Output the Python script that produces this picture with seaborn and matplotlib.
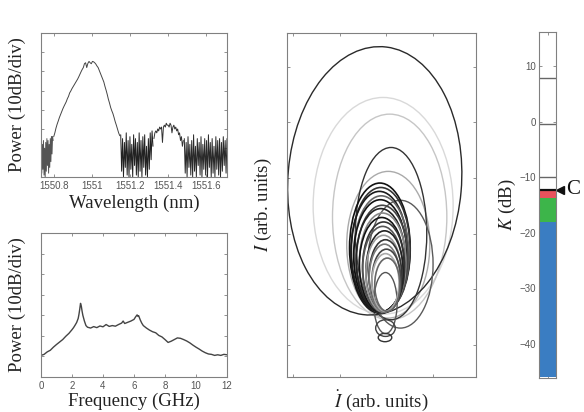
import numpy as np
import matplotlib
matplotlib.use("Agg")
import matplotlib.pyplot as plt
import seaborn as sns
from matplotlib.patches import Ellipse

# ---- optical spectrum (power in divisions of 10 dB) ----
noise_left_range = (1550.731, 1550.794)
noise_left_pw = [1.6, 0.2, 1.7, 0.4, 1.9, 0.1, 1.5, 0.0, 1.8, 0.3, 2.0,
                 0.6, 1.9, 0.2, 1.7, 0.5, 2.0, 0.8, 2.1, 1.2, 2.1, 1.9]
peak_range = (1550.797, 1551.145)
peak_pw = [2.10, 2.30, 2.55, 2.75, 2.92, 3.10, 3.25, 3.40, 3.55, 3.68,
           3.80, 3.92, 4.08, 4.20, 4.38, 4.48, 4.60, 4.70, 4.80, 4.90,
           5.00, 5.10, 5.22, 5.35, 5.48, 5.60, 5.70, 5.90, 5.95, 5.70,
           5.92, 6.02, 5.95, 5.90, 6.02, 6.00, 5.95, 5.88, 5.78, 5.70,
           5.55, 5.40, 5.25, 5.10, 4.95, 4.72, 4.52, 4.30, 4.05, 3.85,
           3.62, 3.45, 3.30, 3.10, 2.88, 2.70, 2.50, 2.30, 2.15]
noise_mid_range = (1551.150, 1551.320)
noise_mid_pw = [2.2, 0.3, 2.0, 0.0, 1.8, 0.5, 2.3, 0.1, 1.9, 0.0, 2.1, 0.4,
                1.7, 0.0, 2.2, 0.6, 2.0, 0.1, 1.8, 0.0, 2.3, 0.3, 1.9, 0.0,
                2.1, 0.5, 2.2, 0.1, 1.6, 0.0, 2.0, 0.4, 2.3, 0.9, 2.4, 1.6]
bump_range = (1551.325, 1551.480)
bump_pw = [2.0, 2.3, 2.4, 2.3, 2.5, 2.4, 2.6, 2.5, 2.6, 1.8, 2.6, 2.7,
           2.6, 2.8, 2.7, 2.7, 2.6, 2.8, 2.7, 2.3, 2.6, 2.7, 2.5, 2.6,
           2.4, 2.5, 2.2, 2.3, 1.9, 2.1, 1.6, 1.9]
noise_right_range = (1551.485, 1551.710)
noise_right_pw = [2.0, 0.2, 1.8, 0.0, 2.1, 0.5, 1.7, 0.1, 1.9, 0.0, 2.2, 0.3,
                  1.6, 0.0, 2.0, 0.6, 1.8, 0.1, 2.1, 0.0, 1.7, 0.4, 2.0, 0.1,
                  1.9, 0.0, 2.2, 0.5, 1.8, 0.0, 2.0, 0.2, 1.6, 0.0, 2.1, 0.4,
                  1.9, 0.1, 2.0, 0.0, 1.8, 0.3, 2.1, 0.6, 1.9, 0.2, 2.0]
wl_ticks = [1550.8, 1551.0, 1551.2, 1551.4, 1551.6]
wl_ticklabels = ["1550.8", "1551", "1551.2", "1551.4", "1551.6"]

# ---- RF spectrum ----
rf_freq = [0.0, 0.2, 0.4, 0.6, 0.8, 1.0, 1.2, 1.4, 1.6, 1.8, 2.0,
           2.1, 2.2, 2.3, 2.4, 2.45, 2.5, 2.55, 2.6, 2.65, 2.7,
           2.8, 2.9, 3.0,
           3.2, 3.4, 3.6, 3.8, 4.0, 4.2, 4.4, 4.6, 4.8, 5.0, 5.2,
           5.3, 5.4, 5.6, 5.8, 6.0,
           6.1, 6.2, 6.25, 6.3, 6.4, 6.5, 6.6,
           6.8, 7.0, 7.2, 7.4, 7.6, 7.8, 8.0, 8.2, 8.4, 8.6, 8.8, 9.0,
           9.2, 9.4, 9.6, 9.8, 10.0, 10.2, 10.4, 10.6, 10.8, 11.0, 11.2,
           11.4, 11.6, 11.8, 12.0]
rf_power = [1.05, 1.10, 1.22, 1.30, 1.45, 1.58, 1.70, 1.82, 1.98, 2.12, 2.30,
            2.40, 2.52, 2.65, 2.85, 3.05, 3.30, 3.58, 3.45, 3.20, 3.00,
            2.72, 2.50, 2.42,
            2.38, 2.45, 2.40, 2.48, 2.44, 2.55, 2.46, 2.50, 2.47, 2.55, 2.62,
            2.72, 2.60, 2.66, 2.72, 2.80,
            2.92, 3.02, 2.95, 2.98, 2.78, 2.62, 2.50,
            2.38, 2.28, 2.20, 2.15, 2.02, 1.95, 1.82, 1.68, 1.74, 1.82, 1.90, 1.88,
            1.82, 1.75, 1.66, 1.55, 1.45, 1.36, 1.26, 1.18, 1.12, 1.10, 1.05,
            1.08, 1.05, 1.10, 1.08]

# ---- phase portrait loops (cx, cy, width, height in arb. units) ----
outer_cx = [1.93, 2.07, 2.04, 1.75, 2.10, 2.30, 1.98, 1.98, 1.97]
outer_cy = [2.50, 2.30, 1.80, 2.95, 2.00, 1.45, 0.75, 0.30, 0.13]
outer_w = [3.00, 2.45, 1.78, 3.72, 1.53, 1.40, 0.50, 0.42, 0.29]
outer_h = [3.90, 3.70, 2.64, 4.84, 3.10, 2.30, 1.10, 0.30, 0.15]
outer_angle = [0, 0, 0, -6, 0, 0, 0, 0, 0]
outer_color = ["#d9d9d9", "#c6c6c6", "#aaaaaa", "#2a2a2a", "#333333",
               "#5a5a5a", "#555555", "#444444", "#333333"]

cluster_cx = [1.86, 1.88, 1.85, 1.89, 1.87, 1.91, 1.88, 1.92, 1.90,
              1.94, 1.92, 1.96, 1.94, 1.98, 1.96, 2.00, 1.98, 2.02]
cluster_cy = [1.74, 1.70, 1.67, 1.63, 1.60, 1.55, 1.52, 1.48, 1.44,
              1.40, 1.36, 1.32, 1.28, 1.24, 1.20, 1.16, 1.12, 1.08]
cluster_w = [1.30, 1.26, 1.22, 1.18, 1.14, 1.10, 1.06, 1.00, 0.96,
             0.90, 0.86, 0.80, 0.76, 0.70, 0.66, 0.62, 0.58, 0.54]
cluster_h = [2.34, 2.26, 2.18, 2.10, 2.02, 1.92, 1.86, 1.78, 1.70,
             1.62, 1.54, 1.46, 1.38, 1.30, 1.22, 1.12, 1.04, 0.96]
cluster_color = ["#111111", "#333333", "#1a1a1a", "#666666", "#111111",
                 "#444444", "#222222", "#888888", "#111111", "#333333",
                 "#555555", "#222222", "#999999", "#333333", "#777777",
                 "#444444", "#aaaaaa", "#666666"]

# ---- K scale ----
k_bottom = [-46.0, -18.1, -13.8]
k_top = [-18.1, -13.8, -12.3]
k_colors = ["#3a7dc2", "#3db54a", "#e9525c"]
k_lines = [7.8, -0.4, -9.9]
k_c = -12.3
k_ticks = [10, 0, -10, -20, -30, -40]

sns.set_theme(style="white")
plt.rcParams["font.family"] = ["Liberation Sans", "DejaVu Sans"]
plt.rcParams["mathtext.fontset"] = "stix"

W, H = 584, 412
fig = plt.figure(figsize=(W / 100, H / 100), dpi=100)


def box(x0, y0, x1, y1):
    return fig.add_axes([x0 / W, 1 - y1 / H, (x1 - x0) / W, (y1 - y0) / H])


def style(ax):
    for s in ax.spines.values():
        s.set_color("#808080")
        s.set_linewidth(0.8)
    ax.tick_params(direction="in", length=2.5, width=0.6, color="#808080",
                   top=True, right=True, bottom=True, left=True,
                   labelsize=7, labelcolor="#555555", pad=3)


serif = dict(fontfamily="Liberation Serif", fontsize=13.5, color="#222222")

# top-left optical spectrum
ax1 = box(41, 33, 227, 177)
pieces = [(noise_left_range, noise_left_pw, "#555555"),
          (peak_range, peak_pw, "#444444"),
          (noise_mid_range, noise_mid_pw, "#222222"),
          (bump_range, bump_pw, "#333333"),
          (noise_right_range, noise_right_pw, "#2a2a2a")]
for (a, b), pw, c in pieces:
    wl = np.linspace(a, b, len(pw))
    sns.lineplot(x=wl, y=pw, ax=ax1, color=c, lw=0.7)
ax1.set_xlim(1550.73, 1551.71)
ax1.set_ylim(0, 7.5)
ax1.set_xticks(wl_ticks)
ax1.set_xticklabels(wl_ticklabels)
ax1.set_yticks([1.5, 2.5, 3.5, 4.5, 5.5, 6.5])
ax1.set_yticklabels([])
style(ax1)
ax1.set_xlabel("Wavelength (nm)", **serif)
ax1.set_ylabel("Power (10dB/div)", **serif)
ax1.xaxis.set_label_coords(0.5, -0.12)
ax1.yaxis.set_label_coords(-0.08, 0.5)

# bottom-left RF spectrum
ax2 = box(41, 233, 227, 377)
sns.lineplot(x=rf_freq, y=rf_power, ax=ax2, color="#444444", lw=1.0)
ax2.set_xlim(0, 12)
ax2.set_ylim(0, 7)
ax2.set_xticks([0, 2, 4, 6, 8, 10, 12])
ax2.set_yticks([1, 2, 3, 4, 5, 6])
ax2.set_yticklabels([])
style(ax2)
ax2.set_xlabel("Frequency (GHz)", **serif)
ax2.set_ylabel("Power (10dB/div)", **serif)
ax2.xaxis.set_label_coords(0.5, -0.11)
ax2.yaxis.set_label_coords(-0.08, 0.5)

# middle phase portrait
ax3 = box(287, 33, 476, 377)
for cx, cy, w, h, a, c in zip(outer_cx, outer_cy, outer_w, outer_h,
                              outer_angle, outer_color):
    ax3.add_patch(Ellipse((cx, cy), w, h, angle=a, fill=False, ec=c, lw=1.0))
for cx, cy, w, h, c in zip(cluster_cx, cluster_cy, cluster_w, cluster_h,
                           cluster_color):
    ax3.add_patch(Ellipse((cx, cy), w, h, fill=False, ec=c, lw=1.2))
ax3.set_xlim(-0.13, 3.92)
ax3.set_ylim(-0.58, 5.61)
ax3.set_xticks([0, 1, 2, 3])
ax3.set_yticks([0, 1, 2, 3, 4, 5])
ax3.set_xticklabels([])
ax3.set_yticklabels([])
style(ax3)
ax3.set_xlabel(r"$\dot{I}$ (arb. units)", **serif)
ax3.set_ylabel(r"$I$ (arb. units)", **serif)
ax3.xaxis.set_label_coords(0.5, -0.035)
ax3.yaxis.set_label_coords(-0.07, 0.5)

# right K scale
ax4 = box(539, 32, 556, 378)
heights = [t - b for b, t in zip(k_bottom, k_top)]
ax4.bar([0.5] * len(heights), heights, bottom=k_bottom, width=1.0,
        color=k_colors, edgecolor="none")
for y in k_lines:
    ax4.axhline(y, color="#666666", lw=1.0)
ax4.axhline(k_c, color="#111111", lw=1.6)
ax4.set_xlim(0, 1)
ax4.set_ylim(-46.1, 16.1)
ax4.set_xticks([0.5])
ax4.set_xticklabels([])
ax4.set_yticks(k_ticks)
style(ax4)
ax4.tick_params(axis="y", labelright=False, pad=2)
ax4.set_ylabel(r"$K$ (dB)", **serif)
ax4.yaxis.set_label_coords(-1.25, 0.5)
ax4.plot([1.25], [k_c], marker="<", color="#111111", ms=6, clip_on=False)
ax4.text(1.62, k_c, "C", fontfamily="Liberation Serif", fontsize=15,
         color="#111111", ha="left", va="center", clip_on=False)

fig.savefig("out.png", dpi=100)
